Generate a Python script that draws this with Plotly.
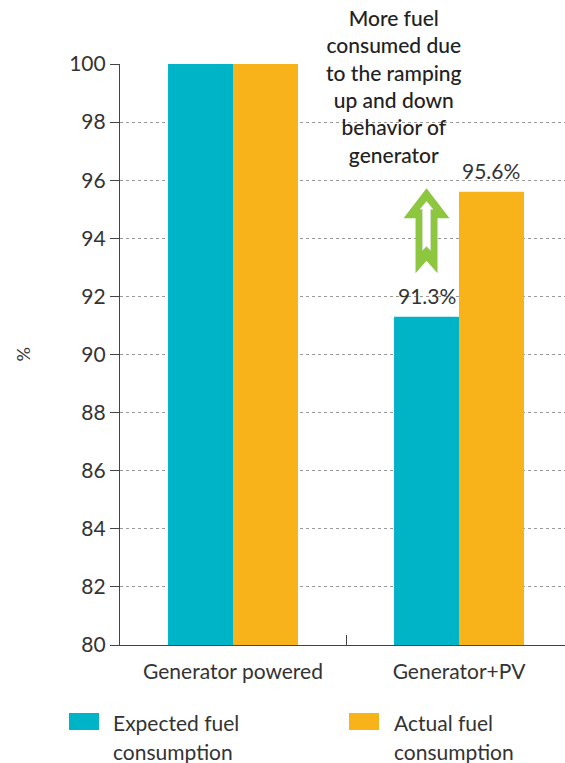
import plotly.graph_objects as go

# Fuel consumption relative to the generator-only case (%)
categories = ["Generator powered", "Generator+PV"]
expected_fuel = [100.0, 91.3]
actual_fuel = [100.0, 95.6]
series_names = [["Expected fuel", "consumption"], ["Actual fuel", "consumption"]]
y_ticks = list(range(80, 101, 2))

BLUE = "#00B4C8"
ORANGE = "#F8B31A"
GREEN = "#8DC63F"
TEXT = "#333333"
FONT = "Lato"

W, H = 565, 763
M_L, M_R, M_T, M_B = 120, 0, 64, 118
X_RANGE = [-0.5, 1.469]
Y_RANGE = [80, 100]
BARGAP = 0.425
half_bar = (1 - BARGAP) / 4  # offset from category centre to each bar centre

plot_w = W - M_L - M_R
plot_h = H - M_T - M_B


def px_to_paper_x(px):
    return (px - M_L) / plot_w


def px_to_paper_y(py):
    return (H - M_B - py) / plot_h


fig = go.Figure()
fig.add_trace(go.Bar(x=categories, y=expected_fuel, name=" ".join(series_names[0]),
                     marker=dict(color=BLUE, line=dict(width=0)), showlegend=False))
fig.add_trace(go.Bar(x=categories, y=actual_fuel, name=" ".join(series_names[1]),
                     marker=dict(color=ORANGE, line=dict(width=0)), showlegend=False))

annotations = []
# value labels above the Generator+PV bars
for val, dx in [(expected_fuel[1], -half_bar), (actual_fuel[1], half_bar)]:
    annotations.append(dict(x=1 + dx, y=val, xref="x", yref="y", text=f"{val}%",
                            showarrow=False, yanchor="bottom", yshift=7,
                            font=dict(family=FONT, size=21, color=TEXT)))

# explanatory note above the arrow
annotations.append(dict(
    x=px_to_paper_x(394), y=px_to_paper_y(3), xref="paper", yref="paper",
    text="More fuel<br>consumed due<br>to the ramping<br>up and down<br>behavior of<br>generator",
    showarrow=False, yanchor="top", xanchor="center", align="center",
    font=dict(family=FONT, size=21, color="#222222", weight=500)))

# y-axis title
annotations.append(dict(x=px_to_paper_x(22), y=0.5, xref="paper", yref="paper",
                        text="%", textangle=-90, showarrow=False,
                        xanchor="center", yanchor="middle",
                        font=dict(family=FONT, size=18, color=TEXT)))

# legend drawn as swatches + two-line labels below the axis
shapes = []
legend_items = [(series_names[0], BLUE, 69, 111), (series_names[1], ORANGE, 349, 392)]
for lines, color, sx, tx in legend_items:
    shapes.append(dict(type="rect", xref="paper", yref="paper",
                       x0=px_to_paper_x(sx), x1=px_to_paper_x(sx + 30),
                       y0=px_to_paper_y(730), y1=px_to_paper_y(713),
                       fillcolor=color, line=dict(width=0)))
    for line, cy in zip(lines, [722, 751]):
        annotations.append(dict(x=px_to_paper_x(tx), y=px_to_paper_y(cy),
                                xref="paper", yref="paper", text=line, showarrow=False,
                                xanchor="left", yanchor="middle", align="left",
                                font=dict(family=FONT, size=21, color=TEXT)))

# hollow up-arrow between the two Generator+PV bar heights
px_x = (X_RANGE[1] - X_RANGE[0]) / plot_w
px_y = (Y_RANGE[1] - Y_RANGE[0]) / plot_h
arrow_x = 1 - half_bar
arrow_tip = 95.72


def arrow_path(pts):
    coords = [(arrow_x + dx * px_x, arrow_tip - dy * px_y) for dx, dy in pts]
    return "M" + " L".join(f"{x:.5f},{y:.5f}" for x, y in coords) + " Z"


outer = [(0, 0), (23, 30), (11, 30), (11, 85), (0, 72.5), (-11, 85), (-11, 30), (-23, 30)]
inner = [(0, 13), (6.5, 21), (4, 21), (4, 62), (0, 58), (-4, 62), (-4, 21), (-6.5, 21)]
shapes.append(dict(type="path", xref="x", yref="y", path=arrow_path(outer),
                   fillcolor=GREEN, line=dict(width=0)))
shapes.append(dict(type="path", xref="x", yref="y", path=arrow_path(inner),
                   fillcolor="white", line=dict(color="#dddddd", width=0.6)))

fig.update_layout(
    width=W, height=H,
    margin=dict(l=M_L, r=M_R, t=M_T, b=M_B),
    paper_bgcolor="white", plot_bgcolor="white",
    barmode="group", bargap=BARGAP, bargroupgap=0,
    font=dict(family=FONT, size=21, color=TEXT),
    annotations=annotations, shapes=shapes,
    xaxis=dict(type="category", range=X_RANGE, showline=True, linecolor="#444444",
               linewidth=1.2, ticks="inside", tickson="boundaries", ticklen=10,
               tickcolor="#444444", tickwidth=1.2, showgrid=False,
               ticklabelstandoff=8,
               tickfont=dict(family=FONT, size=21, color=TEXT), fixedrange=True),
    yaxis=dict(range=Y_RANGE, tickvals=y_ticks, showline=True, linecolor="#444444",
               linewidth=1.2, ticks="outside", ticklen=9, tickcolor="#444444",
               tickwidth=1.2, showgrid=True, gridcolor="#9a9a9a", griddash="dot",
               gridwidth=1, zeroline=False,
               tickfont=dict(family=FONT, size=21, color=TEXT), fixedrange=True),
)

fig.write_html("out.html")
